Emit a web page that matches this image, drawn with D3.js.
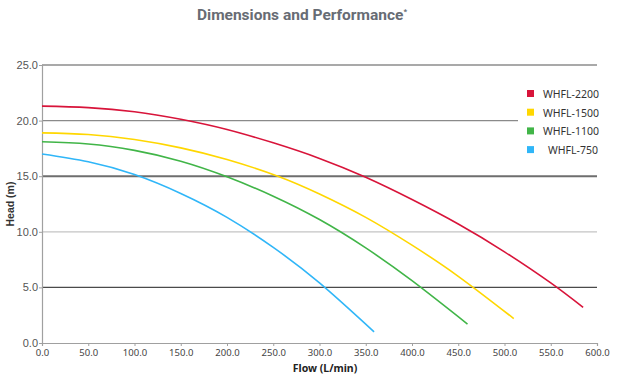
<!DOCTYPE html>
<html>
<head>
<meta charset="utf-8">
<script src="https://cdn.jsdelivr.net/npm/d3@7"></script>
<style>
  body { margin: 0; background: #fff; }
  svg { display: block; }
</style>
</head>
<body>
<svg id="chart" width="620" height="377"></svg>
<script>
// pump curves: [flow L/min, head m]
const models = ["WHFL-2200", "WHFL-1500", "WHFL-1100", "WHFL-750"];
const whfl2200 = [[0,21.3],[50,21.17],[100,20.8],[150,20.12],[200,19.2],[250,18.0],[300,16.6],[350,14.9],[400,12.9],[450,10.7],[500,8.2],[550,5.4],[585,3.2]];
const whfl1500 = [[0,18.9],[50,18.75],[100,18.3],[150,17.55],[200,16.5],[255,15.0],[300,13.4],[350,11.3],[400,8.8],[450,6.0],[510,2.2]];
const whfl1100 = [[0,18.1],[50,17.9],[100,17.32],[150,16.35],[200,14.95],[250,13.2],[300,11.1],[350,8.55],[400,5.6],[460,1.7]];
const whfl750  = [[0,17.0],[50,16.3],[100,15.15],[150,13.45],[200,11.3],[250,8.6],[300,5.4],[359,1.0]];
const xTicks = [0, 50, 100, 150, 200, 250, 300, 350, 400, 450, 500, 550, 600];
const yTicks = [0, 5, 10, 15, 20, 25];

const series = [whfl2200, whfl1500, whfl1100, whfl750];
const colors = ["#d8143a", "#ffd700", "#41b548", "#30b6f8"];

const svg = d3.select("#chart");
const mLeft = 42, mRight = 597, mTop = 65, mBottom = 343;

const x = d3.scaleLinear().domain([0, 600]).range([mLeft, mRight]);
const y = d3.scaleLinear().domain([0, 25]).range([mBottom, mTop]);

// horizontal grid, each line drawn a bit differently in the original
const gridStyle = {
  5:  { stroke: "#4a4a4a", w: 1.3 },
  10: { stroke: "#c4c4c4", w: 1.2 },
  15: { stroke: "#6e6e6e", w: 2 },
  20: { stroke: "#8a8a8a", w: 1.1 },
  25: { stroke: "#555",    w: 1.2 }
};
svg.append("g")
  .selectAll("line")
  .data(yTicks.filter(d => d > 0))
  .join("line")
  .attr("x1", mLeft)
  .attr("x2", mRight)
  .attr("y1", d => y(d))
  .attr("y2", d => y(d))
  .attr("stroke", d => gridStyle[d].stroke)
  .attr("stroke-width", d => gridStyle[d].w);

// legend backing cuts the 20 line short
svg.append("rect")
  .attr("x", 518).attr("y", 80)
  .attr("width", 102).attr("height", 85)
  .attr("fill", "#fff");

// axes
const yAxis = svg.append("g")
  .attr("transform", `translate(${mLeft},0)`)
  .call(d3.axisLeft(y).tickValues(yTicks).tickFormat(d3.format(".1f")).tickSize(3));
yAxis.select(".domain").attr("stroke", "#a0a0a0").attr("stroke-width", 1.2);
yAxis.selectAll(".tick line").attr("stroke", "#a0a0a0");
yAxis.selectAll("text")
  .attr("fill", "#555")
  .attr("font-family", "Liberation Sans, Arial, sans-serif")
  .attr("font-size", 11)
  .attr("x", -4);

const xAxis = svg.append("g")
  .attr("transform", `translate(0,${mBottom})`)
  .call(d3.axisBottom(x).tickValues(xTicks).tickFormat(d3.format(".1f")).tickSize(3));
xAxis.select(".domain").attr("stroke", "#a0a0a0").attr("stroke-width", 1.2);
xAxis.selectAll(".tick line").attr("stroke", "#a0a0a0");
xAxis.selectAll("text")
  .attr("fill", "#444")
  .attr("font-family", "Noto Sans, sans-serif")
  .attr("font-size", 9.5)
  .attr("y", 6);

// curves
const line = d3.line()
  .x(d => x(d[0]))
  .y(d => y(d[1]))
  .curve(d3.curveNatural);

svg.append("g")
  .selectAll("path")
  .data(series)
  .join("path")
  .attr("d", line)
  .attr("fill", "none")
  .attr("stroke", (d, i) => colors[i])
  .attr("stroke-width", 1.6);

// legend
const legend = svg.append("g")
  .selectAll("g")
  .data(models)
  .join("g")
  .attr("transform", (d, i) => `translate(527,${94 + i * 18.7})`);
legend.append("rect")
  .attr("x", 0).attr("y", -4)
  .attr("width", 7).attr("height", 7)
  .attr("fill", (d, i) => colors[i]);
legend.append("text")
  .attr("x", (d, i) => i === 3 ? 21 : 16)
  .attr("y", 4)
  .attr("font-family", "Noto Sans, sans-serif")
  .attr("font-size", 10.5)
  .attr("fill", "#333")
  .text(d => d);

// titles
const title = svg.append("text")
  .attr("x", 302).attr("y", 20)
  .attr("text-anchor", "middle")
  .attr("font-family", "Roboto, sans-serif")
  .attr("font-weight", "bold")
  .attr("font-size", 15.5)
  .attr("fill", "#676c74")
  .text("Dimensions and Performance");
title.append("tspan")
  .attr("dy", -6)
  .attr("font-size", 8)
  .text("*");

svg.append("text")
  .attr("transform", "translate(14,204) rotate(-90)")
  .attr("text-anchor", "middle")
  .attr("font-family", "Liberation Sans, Arial, sans-serif")
  .attr("font-weight", "bold")
  .attr("font-size", 10.5)
  .attr("fill", "#333")
  .text("Head (m)");

svg.append("text")
  .attr("x", 325).attr("y", 372)
  .attr("text-anchor", "middle")
  .attr("font-family", "Noto Sans, sans-serif")
  .attr("font-weight", "bold")
  .attr("font-size", 10.5)
  .attr("fill", "#222")
  .text("Flow (L/min)");
</script>
</body>
</html>
